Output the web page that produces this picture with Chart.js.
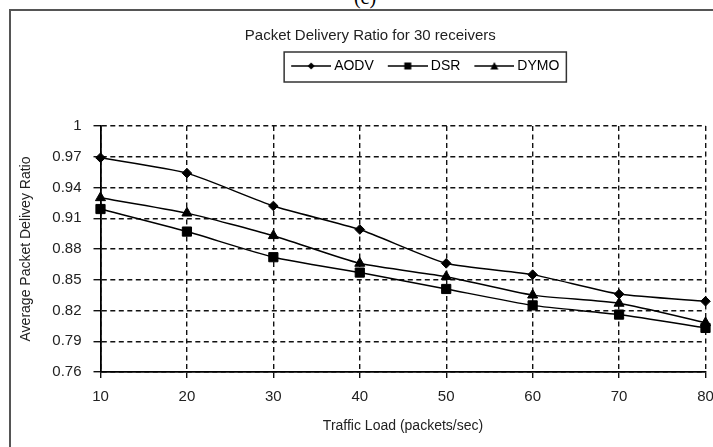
<!DOCTYPE html>
<html>
<head>
    <meta charset="UTF-8">
    <title>Packet Delivery Ratio</title>
    <script src="https://cdn.jsdelivr.net/npm/chart.js"></script>
    <style>
        html, body {
            margin: 0;
            padding: 0;
            width: 713px;
            height: 447px;
            overflow: hidden;
            background: #fff;
        }
        .frame {
            position: absolute;
            left: 9px;
            top: 9px;
            width: 720px;
            height: 460px;
            border: 2px solid #555;
        }
        .caption {
            position: absolute;
            left: 340px;
            top: -13px;
            width: 50px;
            text-align: center;
            font: 20px "Liberation Serif", serif;
            line-height: 20px;
        }
        #chart {
            position: absolute;
            left: 0;
            top: 0;
        }
    </style>
</head>
<body>
<div class="caption">(c)</div>
<div class="frame"></div>
<canvas id="chart" width="713" height="447"></canvas>
<script>
    // values
    const loads = [10, 20, 30, 40, 50, 60, 70, 80];
    const aodv = [0.969, 0.954, 0.922, 0.899, 0.866, 0.855, 0.836, 0.829];
    const dsr = [0.919, 0.897, 0.872, 0.857, 0.841, 0.825, 0.816, 0.803];
    const dymo = [0.930, 0.915, 0.893, 0.866, 0.853, 0.835, 0.827, 0.808];
    const yTicks = [0.76, 0.79, 0.82, 0.85, 0.88, 0.91, 0.94, 0.97, 1];

    const font = '"Liberation Sans", Arial, sans-serif';

    // little line + marker pictures for the legend
    function legendIcon(style) {
        const c = document.createElement('canvas');
        c.width = 48; c.height = 12;
        const g = c.getContext('2d');
        g.strokeStyle = '#000';
        g.fillStyle = '#000';
        g.lineWidth = 1.5;
        g.beginPath(); g.moveTo(8, 6); g.lineTo(48, 6); g.stroke();
        const cx = 28, cy = 6;
        g.beginPath();
        if (style === 'diamond') {
            g.moveTo(cx, cy - 3.5); g.lineTo(cx + 3.5, cy); g.lineTo(cx, cy + 3.5); g.lineTo(cx - 3.5, cy);
        } else if (style === 'square') {
            g.rect(cx - 3.5, cy - 3.5, 7, 7);
        } else {
            g.moveTo(cx, cy - 4); g.lineTo(cx + 4, cy + 3.5); g.lineTo(cx - 4, cy + 3.5);
        }
        g.closePath();
        g.fill();
        return c;
    }
    const icons = [legendIcon('diamond'), legendIcon('square'), legendIcon('triangle')];

    const layoutTweaks = {
        id: 'layoutTweaks',
        beforeInit(chart) {
            const legend = chart.legend;
            const fit = legend.fit;
            legend.fit = function () {
                fit.call(legend);
                legend.height += 43;
            };
        },
        afterLayout(chart) {
            chart.legend.left += 61;
            chart.legend.right += 61;
            chart.titleBlock.left += 8;
            chart.titleBlock.right += 8;
        },
        afterDraw(chart) {
            const boxes = chart.legend.legendHitBoxes;
            if (!boxes || !boxes.length) return;
            const first = boxes[0], last = boxes[boxes.length - 1];
            const ctx = chart.ctx;
            const cy = first.top + first.height / 2;
            ctx.save();
            ctx.strokeStyle = '#333';
            ctx.lineWidth = 1.5;
            ctx.strokeRect(first.left - 3, cy - 14, last.left + last.width + 7 - (first.left - 3), 30);
            ctx.restore();
        }
    };

    new Chart(document.getElementById('chart'), {
        type: 'line',
        data: {
            labels: loads,
            datasets: [
                {label: 'AODV', data: aodv, pointStyle: 'rectRot', pointRadius: 4.8},
                {label: 'DSR', data: dsr, pointStyle: 'rect', pointRadius: 6.5},
                {label: 'DYMO', data: dymo, pointStyle: 'triangle', pointRadius: 5.8}
            ].map(d => Object.assign(d, {
                borderColor: '#000',
                backgroundColor: '#000',
                pointBackgroundColor: '#000',
                pointBorderColor: '#000',
                pointBorderWidth: 1,
                borderWidth: 1.5,
                tension: 0.2
            }))
        },
        options: {
            responsive: false,
            animation: false,
            devicePixelRatio: 1,
            layout: {padding: {top: 27, left: 18, right: 6.5, bottom: 12}},
            plugins: {
                title: {
                    display: true,
                    text: 'Packet Delivery Ratio for 30 receivers',
                    color: '#222',
                    font: {family: font, size: 15, weight: 'normal'},
                    padding: {top: 0, bottom: 4}
                },
                legend: {
                    display: true,
                    labels: {
                        color: '#222',
                        font: {family: font, size: 14},
                        usePointStyle: true,
                        pointStyleWidth: 40,
                        padding: 10,
                        generateLabels: chart => chart.data.datasets.map((ds, i) => ({
                            text: ds.label,
                            pointStyle: icons[i],
                            fillStyle: '#000',
                            strokeStyle: '#000',
                            lineWidth: 0,
                            hidden: false,
                            datasetIndex: i
                        }))
                    }
                },
                tooltip: {enabled: false}
            },
            scales: {
                x: {
                    type: 'category',
                    offset: false,
                    grid: {color: '#111', lineWidth: 1.4, tickLength: 6, tickColor: '#111'},
                    border: {color: '#000', width: 1.8, dash: [5, 3.5]},
                    ticks: {color: '#222', font: {family: font, size: 15}, padding: 10, maxRotation: 0},
                    title: {
                        display: true,
                        text: 'Traffic Load (packets/sec)',
                        color: '#222',
                        font: {family: font, size: 14},
                        padding: {top: 0, bottom: 0}
                    },
                    afterFit: s => {
                        s.height = 63;
                        s.paddingLeft = 0;
                        s.paddingRight = 0;
                    }
                },
                y: {
                    min: 0.76,
                    max: 1,
                    grid: {color: '#111', lineWidth: 1.4, tickLength: 7, tickColor: '#111'},
                    border: {color: '#000', width: 1.8, dash: [5, 3.5]},
                    afterBuildTicks: s => {
                        s.ticks = yTicks.map(v => ({value: v}));
                    },
                    ticks: {
                        color: '#222',
                        font: {family: font, size: 15},
                        padding: 12,
                        callback: v => String(+Number(v).toFixed(2))
                    },
                    title: {
                        display: true,
                        text: 'Average Packet Delivey Ratio',
                        color: '#222',
                        font: {family: font, size: 14},
                        padding: {top: 0, bottom: 0}
                    },
                    afterFit: s => {
                        s.width = 82.5;
                        s.paddingTop = 0;
                        s.paddingBottom = 0;
                    }
                }
            }
        },
        plugins: [layoutTweaks]
    });
</script>
</body>
</html>
